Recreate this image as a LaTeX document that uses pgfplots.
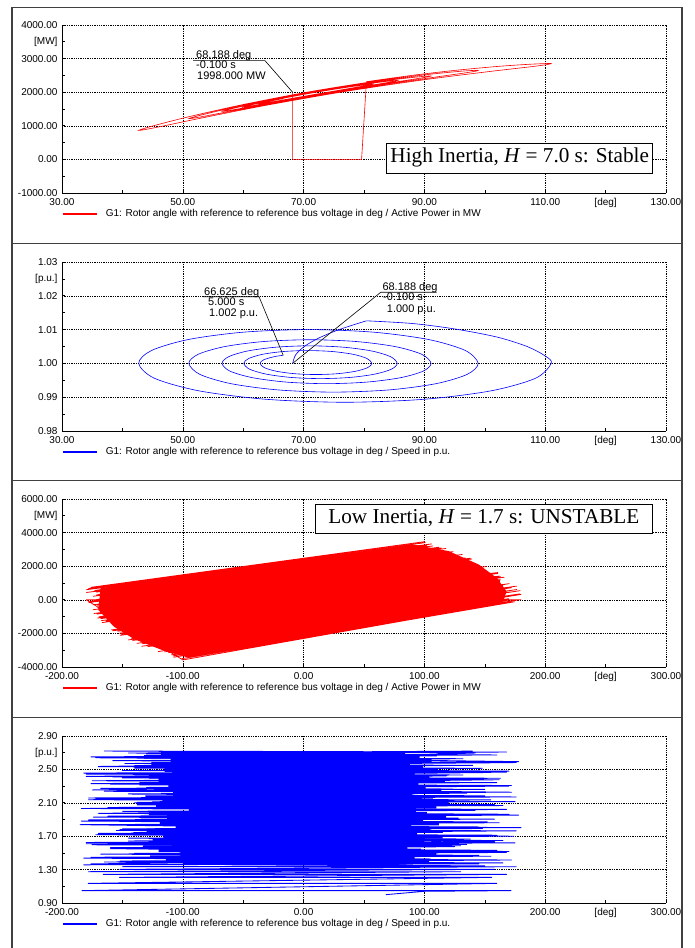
\documentclass[border=0pt]{standalone}
\usepackage{pgfplots}
\pgfplotsset{compat=1.18}
\usepackage{fontspec}
\setmainfont{Liberation Sans}
\newfontfamily\timesfont{Liberation Serif}

\tikzset{ann/.style={font=\fontsize{11}{13}\selectfont, anchor=base west, inner sep=0pt}}
\pgfplotsset{
  panel/.style={
    scale only axis, width=604pt,
    axis x line*=bottom, axis y line*=left,
    axis line style={-, black, line width=0.9pt},
    grid=major,
    major grid style={black, line width=0.55pt, dash pattern=on 1.3pt off 1pt},
    tick style={black, line width=0.6pt},
    major tick length=3pt, minor tick length=3pt,
    tick align=inside,
    tick label style={font=\fontsize{10}{12}\selectfont},
    yticklabel style={xshift=-1pt},
    xticklabel style={yshift=-1.5pt},
    extra tick style={grid=none},
    legend style={draw=none, fill=none, at={(0,0)}, anchor=west, yshift=-21pt,
      inner sep=0pt, outer sep=0pt, font=\fontsize{10}{12}\selectfont,
      nodes={inner sep=0pt},
      /tikz/every odd column/.append style={column sep=8pt}},
    legend cell align=left,
    legend image code/.code={\draw[#1, line width=1.8pt] (0pt,0pt) -- (34pt,0pt);},
  },
}

\begin{document}
\begin{tikzpicture}[x=1pt,y=1pt]
\useasboundingbox (0,0) rectangle (695,948);
\fill[white] (0,0) rectangle (695,948);

% ---------------- Panel 1 ----------------
\begin{axis}[panel, height=168pt, at={(62pt,755pt)}, anchor=south west,
  xmin=30, xmax=130, ymin=-1000, ymax=4000,
  xtick={30,50,70,90,110,130}, xticklabels={30.00,50.00,70.00,90.00,110.00,130.00},
  minor xtick={40,60,80,100},
  extra x ticks={120}, extra x tick labels={{[deg]}},
  ytick={-1000,0,1000,2000,3000,4000},
  yticklabels={-1000.00,0.00,1000.00,2000.00,3000.00,4000.00},
  minor ytick={-500,500,1500,2500},
  extra y ticks={3500}, extra y tick labels={{[MW]}}]
\addplot[red, line width=0.6pt] coordinates {(68.188,1998) (68.188,0) (79.6,0) (80.4,2313)};
\addlegendentry{G1: Rotor angle with reference to reference bus voltage in deg / Active Power in MW}
\addplot[red, line width=0.6pt, smooth, forget plot] coordinates {
(80.4,2313) (88,2502) (95,2648) (102,2765) (107,2827) (110,2851) (111,2847)
(108.40,2774) (101.00,2620) (89.92,2369) (76.85,2020) (63.78,1609) (52.70,1216) (45.30,940) (42.70,862)
(44.84,986) (50.93,1267) (60.05,1635) (70.80,2008) (81.55,2317) (90.67,2528) (96.76,2634) (98.90,2645)
(97.08,2583) (91.89,2451) (84.12,2248) (74.95,1988) (65.78,1700) (58.01,1438) (52.82,1260) (51.00,1213)
(52.53,1296) (56.87,1483) (63.38,1732) (71.05,1992) (78.72,2217) (85.23,2380) (89.57,2467) (91.10,2481)
(89.78,2432) (86.03,2326) (80.42,2168) (73.80,1973) (67.18,1766) (61.57,1582) (57.82,1460) (56.50,1429)
(57.60,1486) (60.75,1616) (65.45,1790) (71.00,1976) (76.55,2141) (81.25,2264) (84.40,2335) (85.50,2347)
(84.53,2308) (81.78,2224) (77.66,2102) (72.80,1954) (67.94,1802) (63.82,1670) (61.07,1584) (60.10,1563)
(60.91,1604) (63.20,1696) (66.64,1820) (70.70,1955) (74.76,2078) (78.20,2172) (80.49,2226) (81.30,2237)
(80.60,2207) (78.59,2143) (75.59,2050) (72.05,1941) (68.51,1830) (65.51,1735) (63.50,1674) (62.80,1660)
(63.40,1690) (65.10,1756) (66.625,1810)};
\node[ann] at (axis cs:52.19,3009) {68.188 deg};
\node[ann] at (axis cs:52.19,2711) {-0.100 s};
\node[ann] at (axis cs:52.35,2384) {1998.000 MW};
\draw[black, line width=0.6pt] (axis cs:51.69,2938) -- (axis cs:63.61,2938) -- (axis cs:68.188,1998);
\end{axis}
\node[draw=black, line width=0.8pt, fill=white, inner xsep=2pt, inner ysep=0pt,
  minimum width=266pt, minimum height=30pt, text height=14.5pt, text depth=4.6pt,
  font=\timesfont\fontsize{21.2}{24}\selectfont] at (519.7,790)
  {High Inertia, \textit{H} = 7.0 s: Stable};

% ---------------- Panel 2 ----------------
\begin{axis}[panel, height=169pt, at={(62pt,517pt)}, anchor=south west,
  xmin=30, xmax=130, ymin=0.98, ymax=1.03,
  xtick={30,50,70,90,110,130}, xticklabels={30.00,50.00,70.00,90.00,110.00,130.00},
  minor xtick={40,60,80,100},
  extra x ticks={120}, extra x tick labels={{[deg]}},
  ytick={0.98,0.99,1.00,1.01,1.02,1.03},
  yticklabels={0.98,0.99,1.00,1.01,1.02,1.03},
  minor ytick={0.985,0.995,1.005,1.015},
  extra y ticks={1.025}, extra y tick labels={{[p.u.]}}]
\addplot[blue, line width=0.6pt, smooth] coordinates {
(68.188,1.0000) (68.68,1.00252) (70.14,1.00504) (72.58,1.00756) (76.00,1.01008) (80.40,1.0126)};
\addlegendentry{G1: Rotor angle with reference to reference bus voltage in deg / Speed in p.u.}
\addplot[blue, line width=0.6pt, smooth, forget plot] coordinates {
(80.4,1.0126) (88,1.0118) (95,1.0102) (102,1.0078) (107,1.0050) (110,1.0022) (111,1.0000)
(108.40,0.99560) (101.00,0.99187) (89.92,0.98938) (76.85,0.98850) (63.78,0.98938) (52.70,0.99187) (45.30,0.99560) (42.70,1.0000)
(44.84,1.00383) (50.93,1.00707) (60.05,1.00924) (70.80,1.01000) (81.55,1.00924) (90.67,1.00707) (96.76,1.00383) (98.90,1.0000)
(97.08,0.99675) (91.89,0.99399) (84.12,0.99215) (74.95,0.99150) (65.78,0.99215) (58.01,0.99399) (52.82,0.99675) (51.00,1.0000)
(52.53,1.00268) (56.87,1.00495) (63.38,1.00647) (71.05,1.00700) (78.72,1.00647) (85.23,1.00495) (89.57,1.00268) (91.10,1.0000)
(89.78,0.99770) (86.03,0.99576) (80.42,0.99446) (73.80,0.99400) (67.18,0.99446) (61.57,0.99576) (57.82,0.99770) (56.50,1.0000)
(57.60,1.00199) (60.75,1.00368) (65.45,1.00480) (71.00,1.00520) (76.55,1.00480) (81.25,1.00368) (84.40,1.00199) (85.50,1.0000)
(84.53,0.99828) (81.78,0.99682) (77.66,0.99584) (72.80,0.99550) (67.94,0.99584) (63.82,0.99682) (61.07,0.99828) (60.10,1.0000)
(60.91,1.00145) (63.20,1.00269) (66.64,1.00351) (70.70,1.00380) (74.76,1.00351) (78.20,1.00269) (80.49,1.00145) (81.30,1.0000)
(80.60,0.99874) (78.59,0.99767) (75.59,0.99695) (72.05,0.99670) (68.51,0.99695) (65.51,0.99767) (63.50,0.99874) (62.80,1.0000)
(63.40,1.00107) (65.10,1.00198) (66.625,1.0024)};
\node[ann] at (axis cs:53.51,1.02009) {66.625 deg};
\node[ann] at (axis cs:54.17,1.01719) {5.000 s};
\node[ann] at (axis cs:54.34,1.01402) {1.002 p.u.};
\draw[black, line width=0.6pt] (axis cs:53.34,1.01973) -- (axis cs:62.62,1.01973) -- (axis cs:66.625,1.0024);
\node[ann] at (axis cs:83.03,1.02142) {68.188 deg};
\node[ann] at (axis cs:83.15,1.01846) {-0.100 s};
\node[ann] at (axis cs:83.76,1.01512) {1.000 p.u.};
\draw[black, line width=0.6pt] (axis cs:92.04,1.02104) -- (axis cs:82.77,1.02104) -- (axis cs:68.188,1.0000);
\end{axis}

% ---------------- Panel 3 ----------------
\begin{axis}[panel, height=168pt, at={(62pt,281pt)}, anchor=south west,
  xmin=-200, xmax=300, ymin=-4000, ymax=6000,
  xtick={-200,-100,0,100,200,300}, xticklabels={-200.00,-100.00,0.00,100.00,200.00,300.00},
  minor xtick={-150,-50,50,150},
  extra x ticks={250}, extra x tick labels={{[deg]}},
  ytick={-4000,-2000,0,2000,4000,6000},
  yticklabels={-4000.00,-2000.00,0.00,2000.00,4000.00,6000.00},
  minor ytick={-3000,-1000,1000,3000},
  extra y ticks={5000}, extra y tick labels={{[MW]}}]
\addplot[fill=red, draw=none, forget plot] coordinates {
(-168,700) (90,3300) (120,2900) (145,2100) (160,1300) (168,500) (165,-150) (-95,-3450) (-115,-3050) (-140,-2350) (-157,-1600) (-170,-600)} -- cycle;
\addplot[red, line width=0.75pt, line join=round] coordinates {
(68.2,1998) (68.2,0) (180,0) (-180,0)
(-100,-3580) (172,-112) (-108,-3339) (169.5,20) (-115,-3100) (180,319) (10.6,-1427) (-129,-2788) (167,458) (-138,-2593) (172,716) (-145,-2387) (165,855) (-53.6,-1208) (-151,-2041) (162.5,1149) (-158,-1844) (163,1367) (-152,-1530) (160.8,1566) (45.6,589) (-163.5,-1264) (147,1769) (-170.5,-1085) (139,1920) (-171,-849) (140.5,2156) (-95.4,85) (-169.5,-485) (138,2473) (-174,-296) (123.8,2565) (-177,-98) (122.5,2793) (32.4,2077) (-171.3,294) (114,3082) (-179.8,434) (102,3222) (-178,671) (100,3460)
(-176,744) (106,3325) (-172.9,556) (112,3127) (-168.4,377) (-13.9,1705) (123.8,2867) (-172.3,3) (131.4,2697) (-168.3,-185) (133.8,2489) (-170.9,-440) (-48.4,577) (136.3,2173) (-173.5,-814) (144.9,2031) (-169.3,-1012) (143.8,1795) (-167.3,-1238) (93.4,1097) (160.7,1621) (-156,-1506) (162,1412) (-159,-1790) (162.8,1202) (-152.3,-1987) (-38.5,-997) (164.3,897) (-142.5,-2291) (176.3,813) (-132.5,-2464) (176.5,611) (-134,-2767) (55.9,-878) (175,307) (-120.3,-3081) (169.8,67) (-109.3,-3274) (178.5,5) (-100.5,-3502)
(174.5,-121) (-107.5,-3418) (172.3,12) (-111.8,-3143) (-61,-2419) (179,352) (-121,-2775) (179.3,544) (-133.5,-2615) (166.5,603) (-141.5,-2420) (94.5,94) (170.3,961) (-151.8,-2116) (162.3,1092) (-153.8,-1869) (166,1341) (-155,-1624) (-114.1,-1107) (156.7,1583) (-166.8,-1356) (149.2,1734) (-167.8,-1120) (151.3,1980) (-162.5,-827) (-13.4,673) (139.3,2202) (-174.2,-588) (139.3,2428) (-170.7,-324) (122.2,2495) (-177.8,-163) (97.6,2503) (122.8,2858) (-174.2,210) (117.8,3056) (-171.7,457) (107,3206) (-180,598) (101,3405)};
\addlegendentry{G1: Rotor angle with reference to reference bus voltage in deg / Active Power in MW}
\end{axis}
\node[draw=black, line width=0.8pt, fill=white, inner xsep=2pt, inner ysep=0pt,
  minimum width=337.7pt, minimum height=29.3pt, text height=14.5pt, text depth=4.6pt,
  font=\timesfont\fontsize{21.2}{24}\selectfont] at (483.9,429.3)
  {Low Inertia, \textit{H} = 1.7 s: UNSTABLE};

% ---------------- Panel 4 ----------------
\begin{axis}[panel, height=167pt, at={(62pt,45pt)}, anchor=south west,
  xmin=-200, xmax=300, ymin=0.9, ymax=2.9,
  xtick={-200,-100,0,100,200,300}, xticklabels={-200.00,-100.00,0.00,100.00,200.00,300.00},
  minor xtick={-150,-50,50,150},
  extra x ticks={250}, extra x tick labels={{[deg]}},
  ytick={0.9,1.3,1.7,2.1,2.5,2.9},
  yticklabels={0.90,1.30,1.70,2.10,2.50,2.90},
  minor ytick={1.1,1.5,1.9,2.3},
  extra y ticks={2.7}, extra y tick labels={{[p.u.]}}]
\addplot[fill=blue, draw=none, forget plot] coordinates {
(-118,2.71) (-118,2.67) (-132,2.67) (-132,2.63) (-110,2.63) (-110,2.59) (-126,2.59) (-126,2.55) (-140,2.55) (-140,2.51) (-115,2.51) (-115,2.47) (-104,2.47) (-104,2.43) (-128,2.43) (-128,2.39) (-120,2.39) (-120,2.35) (-136,2.35) (-136,2.31) (-112,2.31) (-112,2.27) (-124,2.27) (-124,2.23) (-108,2.23) (-108,2.19) (-131,2.19) (-131,2.15) (-117,2.15) (-117,2.11) (-138,2.11) (-138,2.07) (-122,2.07) (-122,2.03) (-95,2.03) (-95,1.99) (-128,1.99) (-128,1.95) (-113,1.95) (-113,1.91) (-135,1.91) (-135,1.87) (-119,1.87) (-119,1.83) (-106,1.83) (-106,1.79) (-130,1.79) (-130,1.75) (-141,1.75) (-141,1.71) (-116,1.71) (-116,1.67) (-125,1.67) (-125,1.63) (-109,1.63) (-109,1.59) (-133,1.59) (-133,1.55) (-120,1.55) (-120,1.51) (-102,1.51) (-102,1.47) (-127,1.47) (-127,1.43) (-114,1.43) (-114,1.39) (-100,1.39) (-100,1.36)
(85,1.36) (85,1.39) (104,1.39) (104,1.43) (92,1.43) (92,1.47) (110,1.47) (110,1.51) (97,1.51) (97,1.55) (86,1.55) (86,1.59) (108,1.59) (108,1.63) (100,1.63) (100,1.67) (115,1.67) (115,1.71) (94,1.71) (94,1.75) (105,1.75) (105,1.79) (89,1.79) (89,1.83) (112,1.83) (112,1.87) (99,1.87) (99,1.91) (118,1.91) (118,1.95) (102,1.95) (102,1.99) (93,1.99) (93,2.03) (110,2.03) (110,2.07) (120,2.07) (120,2.11) (98,2.11) (98,2.15) (107,2.15) (107,2.19) (90,2.19) (90,2.23) (114,2.23) (114,2.27) (101,2.27) (101,2.31) (95,2.31) (95,2.35) (117,2.35) (117,2.39) (104,2.39) (104,2.43) (92,2.43) (92,2.47) (111,2.47) (111,2.51) (99,2.51) (99,2.55) (88,2.55) (88,2.59) (106,2.59) (106,2.63) (96,2.63) (96,2.67) (84,2.67) (84,2.71)} -- cycle;
\addplot[blue, line width=0.85pt, line join=round] coordinates {
(68.2,1.000) (100,1.040) (171.7,1.048) (-183.5,1.048) (160,1.135) (-178.4,1.135) (155.8,1.207) (-152.4,1.207) (168,1.243) (-166,1.243) (130,1.275) (-178,1.275) (158,1.303) (-152,1.303) (176,1.335) (-150,1.335)
(150,1.345) (-176,1.368) (-60,1.392) (172,1.415) (-140,1.438) (120,1.462) (-168,1.485) (30,1.508) (160,1.531) (-155,1.555) (-95,1.578) (135,1.601) (-180,1.625) (165,1.648) (-128,1.671) (108,1.695) (-172,1.718) (-40,1.741) (176,1.764) (-150,1.788) (145,1.811) (-163,1.834) (70,1.858) (-184,1.881) (158,1.904) (-135,1.928) (118,1.951) (-170,1.974) (-10,1.997) (168,2.021) (-158,2.044) (140,2.067) (-122,2.091) (175,2.114) (-178,2.137) (50,2.161) (150,2.184) (-145,2.207) (128,2.230) (-175,2.254) (-75,2.277) (170,2.300) (-160,2.324) (112,2.347) (-132,2.370) (163,2.394) (-180,2.417) (10,2.440) (155,2.463) (-150,2.487) (138,2.510) (-170,2.533) (-50,2.557) (166,2.580) (-138,2.603) (125,2.627) (-176,2.650) (90,2.673) (142,2.696) (-165,2.720)
(168,2.708) (-130,2.685) (110,2.662) (-172,2.639) (60,2.616) (178,2.593) (-148,2.571) (140,2.548) (-120,2.525) (-30,2.502) (170,2.479) (-182,2.456) (132,2.433) (-158,2.410) (100,2.387) (-175,2.364) (160,2.342) (-100,2.319) (150,2.296) (-168,2.273) (20,2.250) (172,2.227) (-142,2.204) (118,2.181) (-178,2.158) (155,2.135) (-125,2.113) (-20,2.090) (165,2.067) (-162,2.044) (135,2.021) (-150,1.998) (40,1.975) (178,1.952) (-174,1.929) (122,1.906) (-135,1.884) (162,1.861) (-185,1.838) (-70,1.815) (148,1.792) (-155,1.769) (115,1.746) (-168,1.723) (174,1.700) (-145,1.677) (80,1.655) (158,1.632) (-180,1.609) (130,1.586) (-160,1.563) (-15,1.540) (170,1.517) (-140,1.494) (145,1.471) (-176,1.448) (105,1.426) (-152,1.403) (165,1.380) (-182,1.357)
(145,1.368) (-165,1.391) (90,1.414) (-182,1.437) (155,1.460) (-135,1.483) (168,1.505) (-20,1.528) (-160,1.551) (125,1.574) (-175,1.597) (175,1.620) (-145,1.643) (138,1.666) (-60,1.689) (160,1.712) (-170,1.734) (112,1.757) (-152,1.780) (180,1.803) (-128,1.826) (0,1.849) (152,1.872) (-178,1.895) (128,1.918) (-162,1.941) (170,1.963) (-110,1.986) (142,2.009) (-184,2.032) (65,2.055) (158,2.078) (-140,2.101) (120,2.124) (-172,2.147) (176,2.170) (-85,2.192) (135,2.215) (-165,2.238) (150,2.261) (-130,2.284) (172,2.307) (-176,2.330) (25,2.353) (162,2.376) (-150,2.399) (118,2.421) (-180,2.444) (168,2.467) (-118,2.490) (148,2.513) (-168,2.536) (-35,2.559) (176,2.582) (-158,2.605) (132,2.628) (-172,2.650) (160,2.673) (-145,2.696) (140,2.719)};
\addlegendentry{G1: Rotor angle with reference to reference bus voltage in deg / Speed in p.u.}
\end{axis}

% ---------------- Frame ----------------
\draw[black!75, line width=1.2pt] (12,0) -- (12,940.7) -- (682,940.7) -- (682,0);
\draw[black!75, line width=1.2pt] (12,704.7) -- (682,704.7);
\draw[black!75, line width=1.2pt] (12,467.3) -- (682,467.3);
\draw[black!75, line width=1.2pt] (12,230.7) -- (682,230.7);
\end{tikzpicture}
\end{document}
